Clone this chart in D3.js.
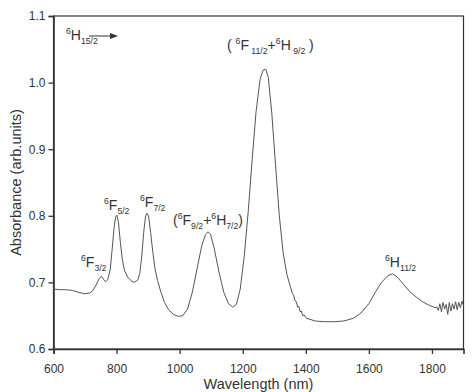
<!DOCTYPE html>
<html><head><meta charset="utf-8">
<script src="https://cdn.jsdelivr.net/npm/d3@7"></script>
<style>body{margin:0;background:#fff}svg{display:block}text{font-family:"Liberation Sans",Arial,sans-serif;fill:#333}</style>
</head><body><div id="chart"></div>
<script>
const wavelength = [600,620,640,660,680,700,715,725,735,745,752,758,765,772,780,786,792,797,801,806,812,818,825,835,845,855,862,868,874,880,886,892,897,902,908,915,922,930,940,952,965,980,995,1010,1025,1040,1055,1070,1082,1090,1098,1110,1125,1140,1155,1168,1180,1192,1205,1218,1230,1242,1255,1265,1273,1281,1292,1305,1316,1328,1340,1352,1358,1362,1366,1370,1374,1378,1382,1386,1390,1395,1402,1410,1430,1460,1490,1520,1550,1575,1600,1620,1640,1660,1675,1690,1710,1730,1750,1770,1790,1810,1815,1820,1825,1830,1835,1840,1845,1850,1855,1860,1865,1870,1875,1880,1885,1890,1895,1900];
const absorbance = [0.690,0.689,0.689,0.688,0.685,0.683,0.684,0.688,0.696,0.706,0.709,0.705,0.701,0.704,0.720,0.750,0.782,0.798,0.801,0.790,0.760,0.735,0.718,0.708,0.703,0.700,0.702,0.704,0.715,0.740,0.775,0.800,0.804,0.798,0.775,0.745,0.720,0.703,0.686,0.670,0.659,0.652,0.649,0.650,0.660,0.685,0.720,0.755,0.772,0.776,0.772,0.750,0.715,0.685,0.668,0.663,0.667,0.690,0.740,0.810,0.885,0.955,1.005,1.019,1.020,1.008,0.955,0.870,0.800,0.745,0.712,0.692,0.683,0.680,0.672,0.671,0.663,0.664,0.656,0.657,0.650,0.651,0.646,0.645,0.642,0.641,0.641,0.642,0.646,0.654,0.668,0.685,0.700,0.710,0.713,0.708,0.697,0.686,0.678,0.671,0.666,0.662,0.663,0.658,0.668,0.656,0.670,0.660,0.667,0.652,0.670,0.657,0.668,0.660,0.671,0.659,0.670,0.662,0.672,0.665];
const xTicks = [600,800,1000,1200,1400,1600,1800];
const yTicks = [0.6,0.7,0.8,0.9,1.0,1.1];

const W = 474, H = 392;
const m = {left:53.5, right:10.5, top:16, bottom:43};
const svg = d3.select("#chart").append("svg").attr("width",W).attr("height",H);
const x = d3.scaleLinear().domain([600,1900]).range([m.left, W-m.right]);
const y = d3.scaleLinear().domain([0.6,1.1]).range([H-m.bottom, m.top]);

// frame
svg.append("rect").attr("x",x(600)).attr("y",y(1.1)).attr("width",x(1900)-x(600)).attr("height",y(0.6)-y(1.1))
  .attr("fill","none").attr("stroke","#333").attr("stroke-width",1.2);

const xa = svg.append("g").attr("transform",`translate(0,${y(0.6)})`)
  .call(d3.axisBottom(x).tickValues(xTicks).tickSize(5).tickFormat(d3.format("d")));
const ya = svg.append("g").attr("transform",`translate(${x(600)},0)`)
  .call(d3.axisLeft(y).tickValues(yTicks).tickSize(5).tickFormat(d3.format(".1f")));
[xa,ya].forEach(g=>{
  g.select(".domain").attr("stroke","#333").attr("stroke-width",1.6);
  g.selectAll(".tick line").attr("stroke","#333").attr("stroke-width",1.3);
  g.selectAll(".tick text").style("font-family","Liberation Sans, Arial, sans-serif").style("font-size","12px").attr("fill","#333");
});
xa.selectAll(".tick text").attr("dy","1.3em");

svg.append("text").attr("x",(x(600)+x(1900))/2).attr("y",389).attr("text-anchor","middle")
  .style("font-size","14.5px").text("Wavelength (nm)");
svg.append("text").attr("transform",`translate(21,${(y(0.6)+y(1.1))/2}) rotate(-90)`).attr("text-anchor","middle")
  .style("font-size","14.5px").text("Absorbance (arb.units)");

// curve
const pts = wavelength.map((w,i)=>[w,absorbance[i]]);
svg.append("path").datum(pts).attr("fill","none").attr("stroke","#555").attr("stroke-width",1)
  .attr("d", d3.line().x(d=>x(d[0])).y(d=>y(d[1])));

// labels: parts [text, type]
function label(px, py, parts, size){
  const t = svg.append("text").attr("x",px).attr("y",py).style("font-size",size+"px");
  let cur = 0;
  parts.forEach(([s,type])=>{
    let target = type==="sup" ? -size*0.45 : type==="sub" ? size*0.3 : 0;
    const fs = type==="n" ? size : size*0.62;
    t.append("tspan").attr("dy", target-cur).style("font-size",fs+"px").text(s);
    cur = target;
  });
}
label(66,40,[["6","sup"],["H","n"],["15/2","sub"]],14);
svg.append("line").attr("x1",89).attr("x2",113).attr("y1",36).attr("y2",36).attr("stroke","#333").attr("stroke-width",1);
svg.append("path").attr("d","M118,36 L110,33 L110,39 Z").attr("fill","#333");

label(227,50,[["( ","n"],["6","sup"],["F","n"],[" 11/2","sub"],["+","n"],["6","sup"],["H","n"],[" 9/2","sub"],[" )","n"]],14);
label(81,267,[["6","sup"],["F","n"],["3/2","sub"]],14);
label(104,210,[["6","sup"],["F","n"],["5/2","sub"]],14);
label(140,207,[["6","sup"],["F","n"],["7/2","sub"]],14);
label(173,225,[["(","n"],["6","sup"],["F","n"],["9/2","sub"],["+","n"],["6","sup"],["H","n"],["7/2","sub"],[")","n"]],14);
label(385,267,[["6","sup"],["H","n"],["11/2","sub"]],14);
</script></body></html>
